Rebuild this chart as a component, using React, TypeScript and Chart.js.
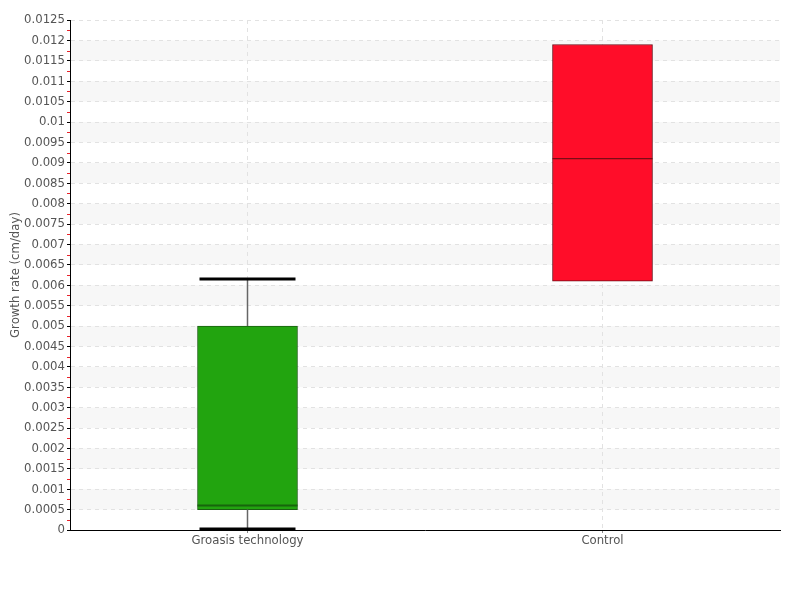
import React, { useEffect, useRef } from "react";
import { Chart, registerables } from "chart.js";

Chart.register(...registerables);

const categories = ["Groasis technology", "Control"];
const whiskerLow = [0, 0.0061];
const q1 = [0.0005, 0.0061];
const median = [0.0006, 0.0091];
const q3 = [0.005, 0.0119];
const whiskerHigh = [0.00615, 0.0119];
const fillColors = ["#22a40f", "#ff0d29"];
const borderColors = ["#1b5f12", "#6e0c16"];
const medianColors = ["#17650c", "#7a0c16"];

const FONT = "'Liberation Sans Narrow', 'DejaVu Sans Condensed', 'Roboto', sans-serif";

export default function App() {
  const ref = useRef<HTMLCanvasElement | null>(null);
  useEffect(() => {
    if (!ref.current) return;
    const bands = {
      id: "bands",
      beforeDraw(chart: any) {
        const { ctx, chartArea, scales } = chart;
        const y = scales.y;
        ctx.save();
        ctx.fillStyle = "#f7f7f7";
        for (let k = 1; k < 25; k += 2) {
          const a = y.getPixelForValue(k * 0.0005);
          const b = y.getPixelForValue((k + 1) * 0.0005);
          ctx.fillRect(chartArea.left, b, chartArea.right - chartArea.left, a - b);
        }
        ctx.restore();
      },
    };
    const boxes = {
      id: "boxes",
      afterDatasetsDraw(chart: any) {
        const { ctx, scales } = chart;
        const x = scales.x;
        const y = scales.y;
        const meta = chart.getDatasetMeta(0);
        ctx.save();
        categories.forEach((_, i) => {
          const cx = x.getPixelForValue(i);
          const w = meta.data[i].width;
          ctx.strokeStyle = "#666";
          ctx.lineWidth = 1.5;
          if (whiskerHigh[i] > q3[i]) {
            ctx.beginPath();
            ctx.moveTo(cx, y.getPixelForValue(whiskerHigh[i]));
            ctx.lineTo(cx, y.getPixelForValue(q3[i]));
            ctx.stroke();
            ctx.strokeStyle = "#000";
            ctx.lineWidth = 3;
            ctx.beginPath();
            ctx.moveTo(cx - w * 0.48, y.getPixelForValue(whiskerHigh[i]));
            ctx.lineTo(cx + w * 0.48, y.getPixelForValue(whiskerHigh[i]));
            ctx.stroke();
          }
          ctx.strokeStyle = "#666";
          ctx.lineWidth = 1.5;
          if (whiskerLow[i] < q1[i]) {
            ctx.beginPath();
            ctx.moveTo(cx, y.getPixelForValue(q1[i]));
            ctx.lineTo(cx, y.getPixelForValue(whiskerLow[i]));
            ctx.stroke();
            ctx.strokeStyle = "#000";
            ctx.lineWidth = 3;
            ctx.beginPath();
            ctx.moveTo(cx - w * 0.48, y.getPixelForValue(whiskerLow[i]) - 1);
            ctx.lineTo(cx + w * 0.48, y.getPixelForValue(whiskerLow[i]) - 1);
            ctx.stroke();
          }
          ctx.strokeStyle = medianColors[i];
          ctx.lineWidth = i === 0 ? 2 : 1.2;
          ctx.beginPath();
          ctx.moveTo(cx - w / 2, y.getPixelForValue(median[i]));
          ctx.lineTo(cx + w / 2, y.getPixelForValue(median[i]));
          ctx.stroke();
        });
        ctx.restore();
      },
      afterDraw(chart: any) {
        const { ctx, scales, chartArea } = chart;
        const y = scales.y;
        ctx.save();
        ctx.strokeStyle = "#e8232b";
        ctx.lineWidth = 1;
        for (let k = 0; k < 25; k++) {
          const py = Math.round(y.getPixelForValue(k * 0.0005 + 0.00025)) + 0.5;
          ctx.beginPath();
          ctx.moveTo(chartArea.left - 3, py);
          ctx.lineTo(chartArea.left, py);
          ctx.stroke();
        }
        ctx.restore();
      },
    };
    const chart = new Chart(ref.current, {
      type: "bar",
      data: {
        labels: categories,
        datasets: [
          {
            data: categories.map((_, i) => [q1[i], q3[i]]) as any,
            backgroundColor: fillColors,
            borderColor: borderColors,
            borderWidth: 1,
            borderSkipped: false,
            barThickness: 100,
          },
        ],
      },
      options: {
        animation: false,
        responsive: false,
        maintainAspectRatio: false,
        layout: { padding: { top: 20, right: 20, left: 0, bottom: 0 } },
        plugins: { legend: { display: false }, tooltip: { enabled: false } },
        scales: {
          x: {
            grid: {
              offset: false,
              color: (c: any) => (c.tick ? "#e2e2e2" : "rgba(0,0,0,0)"),
              tickColor: (c: any) => (c.tick ? "#888" : "rgba(0,0,0,0)"),
              tickLength: 3,
            } as any,
            border: { color: "#000", width: 1, dash: [4, 4] } as any,
            ticks: { color: "#555", font: { family: FONT, size: 13 }, padding: 0 },
            afterFit(scale: any) {
              scale.height = 70;
            },
          },
          y: {
            min: 0,
            max: 0.0125,
            grid: {
              color: "#e2e2e2",
              tickColor: "#000",
              tickLength: 3,
              tickBorderDash: [],
            } as any,
            border: { color: "#000", width: 1, dash: [4, 4] } as any,
            ticks: {
              stepSize: 0.0005,
              color: "#555",
              padding: 2,
              autoSkip: false,
              font: { family: FONT, size: 13 },
              callback: (v: any) => String(parseFloat(Number(v).toFixed(5))),
            },
            title: {
              display: true,
              text: "Growth rate (cm/day)",
              color: "#555",
              font: { family: FONT, size: 13 },
              padding: { top: 8, bottom: 0 },
            },
            afterFit(scale: any) {
              scale.width = 70;
            },
          },
        },
      },
      plugins: [bands, boxes],
    });
    return () => chart.destroy();
  }, []);
  return (
    <div style={{ position: "fixed", left: 0, top: 0, width: 800, height: 600, background: "#fff" }}>
      <canvas ref={ref} width={800} height={600} style={{ width: 800, height: 600 }} />
    </div>
  );
}
